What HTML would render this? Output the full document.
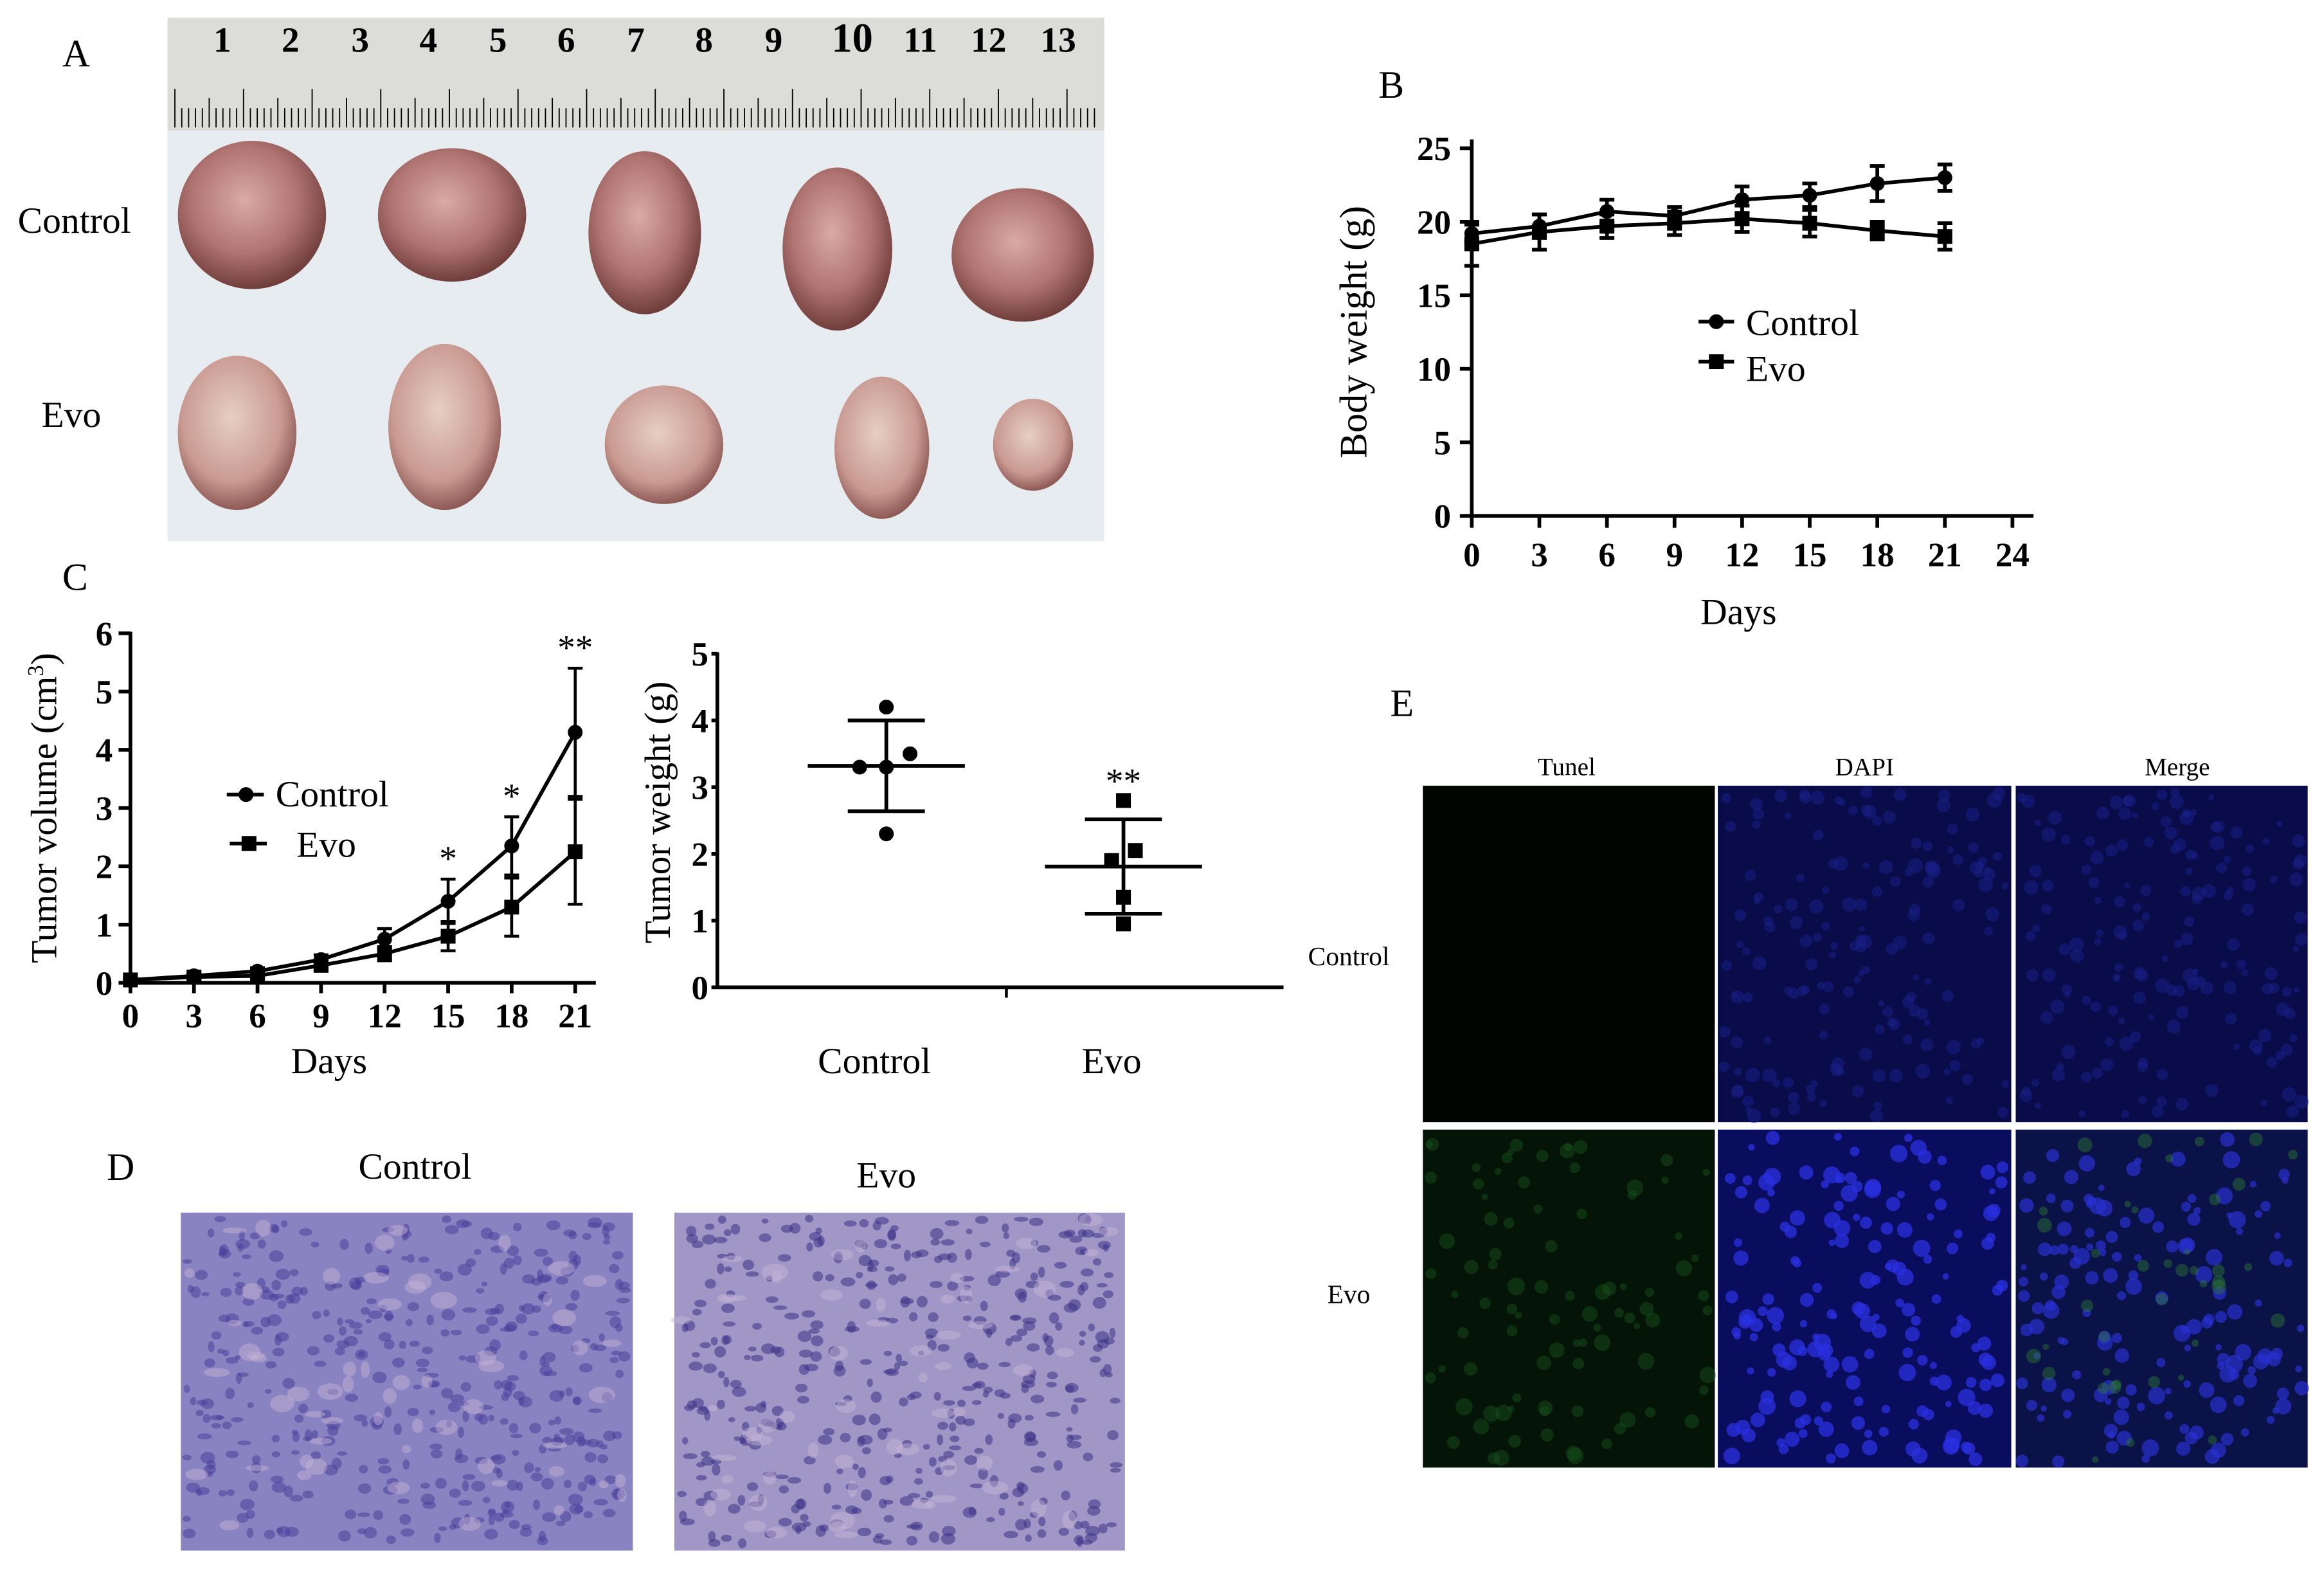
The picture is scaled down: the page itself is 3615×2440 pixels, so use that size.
<!DOCTYPE html>
<html><head><meta charset="utf-8">
<style>
html,body{margin:0;padding:0;background:#fff;}
svg{display:block;font-family:"Liberation Serif",serif;}
</style></head>
<body>
<svg id="fig" xmlns="http://www.w3.org/2000/svg" width="3615" height="2440" viewBox="0 0 1568 1058.4" preserveAspectRatio="none">
<defs>
<radialGradient id="tum" cx="45%" cy="40%" r="60%">
<stop offset="0" stop-color="#d9aaa6"/><stop offset="0.6" stop-color="#b07472"/><stop offset="1" stop-color="#703e3c"/>
</radialGradient>
<radialGradient id="tumw" cx="45%" cy="40%" r="60%">
<stop offset="0" stop-color="#e6cfc4"/><stop offset="0.7" stop-color="#c99a92"/><stop offset="1" stop-color="#8e5a56"/>
</radialGradient>
</defs>
<rect width="1568" height="1058.4" fill="#fff"/>
<g id="panelA">
<rect x="113" y="12" width="632" height="353" fill="#e6ecef"/>
<rect x="113" y="12" width="632" height="76" fill="#dcdcd8"/>
<g id="ruler"></g>
<g id="tumors"></g>
<text x="42" y="45" font-size="26">A</text>
<text x="12" y="157" font-size="25">Control</text>
<text x="28" y="288" font-size="25">Evo</text>
</g>
<g id="panelB"></g>
<g id="panelC1"></g>
<g id="panelC2"></g>
<g id="panelD">
<text x="72" y="796" font-size="26">D</text>
<text x="280" y="795" font-size="25" text-anchor="middle">Control</text>
<text x="598" y="801" font-size="25" text-anchor="middle">Evo</text>
<rect x="122" y="818" width="305" height="228" fill="#8a83c2"/>
<rect x="455" y="818" width="304" height="228" fill="#a097c6"/>
<g id="heCells"></g>
</g>
<g id="panelE">
<text x="938" y="483" font-size="26">E</text>
<text x="1057" y="523" font-size="17" text-anchor="middle">Tunel</text>
<text x="1258" y="523" font-size="17" text-anchor="middle">DAPI</text>
<text x="1469" y="523" font-size="17" text-anchor="middle">Merge</text>
<text x="910" y="651" font-size="18" text-anchor="middle">Control</text>
<text x="910" y="879" font-size="18" text-anchor="middle">Evo</text>
<rect x="960" y="530" width="597" height="460" fill="#fff"/>
<rect x="960" y="530" width="197" height="227" fill="#020402"/>
<rect x="1159" y="530" width="198" height="227" fill="#0a0c4a"/>
<rect x="1360" y="530" width="197" height="227" fill="#0a0c4a"/>
<rect x="960" y="762" width="197" height="228" fill="#041406"/>
<rect x="1159" y="762" width="198" height="228" fill="#0a0c5e"/>
<rect x="1360" y="762" width="197" height="228" fill="#0a1248"/>
<g id="fluoCells"></g>
</g>
</svg>
<script>
// ---- data ----
var bwDays = [0,3,6,9,12,15,18,21];
var bwControl = [19.2,19.7,20.7,20.4,21.5,21.8,22.6,23.0];
var bwControlErr = [0.6,0.8,0.8,0.6,0.9,0.8,1.2,0.9];
var bwEvo = [18.5,19.3,19.7,19.9,20.2,19.9,19.4,19.0];
var bwEvoErr = [1.5,1.2,0.8,0.8,0.9,0.9,0.6,0.9];
var bwYTicks = [0,5,10,15,20,25];
var bwXTicks = [0,3,6,9,12,15,18,21,24];
var tvDays = [0,3,6,9,12,15,18,21];
var tvControl = [0.05,0.12,0.2,0.4,0.75,1.4,2.35,4.3];
var tvControlErr = [0.03,0.04,0.06,0.08,0.18,0.38,0.5,1.1];
var tvEvo = [0.05,0.1,0.12,0.3,0.5,0.8,1.3,2.25];
var tvEvoErr = [0.03,0.03,0.05,0.07,0.12,0.25,0.5,0.9];
var tvStars = ["","","","","","*","*","**"];
var tvYTicks = [0,1,2,3,4,5,6];
var tvXTicks = [0,3,6,9,12,15,18,21];
var twGroups = ["Control","Evo"];
var twControl = [4.2,3.3,3.5,3.3,2.3];
var twEvo = [2.8,1.9,2.05,1.35,0.95];
var twYTicks = [0,1,2,3,4,5];

var NS="http://www.w3.org/2000/svg";
function mk(parent, tag, attrs, name, inter){
  var el=document.createElementNS(NS,tag);
  for(var k in attrs) el.setAttribute(k,attrs[k]);
  
  
  parent.appendChild(el); return el;
}
function txt(parent,x,y,s,size,name,anchor,extra){
  var a={x:x,y:y,'font-size':size,'text-anchor':anchor||'middle'};
  if(extra) for(var k in extra) a[k]=extra[k];
  var t=mk(parent,'text',a,name,false); t.textContent=s; return t;
}
function ln(p,x1,y1,x2,y2,w,name){return mk(p,'line',{x1:x1,y1:y1,x2:x2,y2:y2,stroke:'#000','stroke-width':w||2},name,false);}
var seed=7;function rnd(){seed=(seed*16807)%2147483647;return seed/2147483647;}

// ---- Panel A decor ----
var ru=document.getElementById('ruler');
var rnum=[150,196,243,289,336,382,429,475,522,575,621,667,714];
for(var i=0;i<rnum.length;i++){txt(ru,rnum[i],35,String(i+1),i==9?28:24,'ruler-number','middle',{'font-weight':'bold'});}
for(var x=118;x<742;x+=4.63){var L=(Math.round((x-118)/4.63)%10==0)?26:(Math.round((x-118)/4.63)%5==0?20:13);ln(ru,x,86-L,x,86,0.8,'ruler-tick');}
var tg=document.getElementById('tumors');
var tums=[[170,145,50,50],[305,145,50,45],[435,157,38,55],[565,168,37,55],[690,172,48,45],[160,292,40,52],[300,288,38,56],[448,300,40,40],[595,302,32,48],[697,300,27,31]];
tums.forEach(function(t,i){mk(tg,'ellipse',{cx:t[0],cy:t[1],rx:t[2],ry:t[3],fill:i>=5?'url(#tumw)':'url(#tum)'},'tumor-'+(i<5?'control':'evo')+'-'+(i%5+1),false);});

// ---- Panel B ----
(function(){
var g=document.getElementById('panelB');
var x0=993,xw=15.2,y0=348,yh=9.92;
function X(d){return x0+d*xw;} function Y(v){return y0-v*yh;}
txt(g,930,66,'B',26,'panel-label-b','start');
ln(g,x0,Y(25)-6,x0,y0+1,2.5,'y-axis');ln(g,x0,y0,1372,y0,2.5,'x-axis');
bwYTicks.forEach(function(v){ln(g,x0-8,Y(v),x0,Y(v),2.5,'y-tick');txt(g,x0-14,Y(v)+8,String(v),23,'y-tick-label','end',{'font-weight':'bold'});});
bwXTicks.forEach(function(v){ln(g,X(v),y0,X(v),y0+8,2.5,'x-tick');txt(g,X(v),y0+34,String(v),23,'x-tick-label','middle',{'font-weight':'bold'});});
txt(g,1173,421,'Days',25,'x-axis-title');
txt(g,922,224,'Body weight (g)',26,'y-axis-title','middle',{transform:'rotate(-90 922 224)'});
function series(vals,errs,name,sq){
  var pts=vals.map(function(v,i){return X(bwDays[i])+','+Y(v);}).join(' ');
  mk(g,'polyline',{points:pts,fill:'none',stroke:'#000','stroke-width':2.5},name+'-line',false);
  vals.forEach(function(v,i){var x=X(bwDays[i]);
    ln(g,x,Y(v+errs[i]),x,Y(v-errs[i]),2.5,name+'-error-bar');ln(g,x-5,Y(v+errs[i]),x+5,Y(v+errs[i]),2.5,name+'-error-cap');ln(g,x-5,Y(v-errs[i]),x+5,Y(v-errs[i]),2.5,name+'-error-cap');
    if(sq) mk(g,'rect',{x:x-5,y:Y(v)-5,width:10,height:10,fill:'#000'},name+'-point',false);
    else mk(g,'circle',{cx:x,cy:Y(v),r:5,fill:'#000'},name+'-point',false);});
}
series(bwControl,bwControlErr,'control',false);series(bwEvo,bwEvoErr,'evo',true);
ln(g,1146,217,1170,217,2.5,'legend-line-control');mk(g,'circle',{cx:1158,cy:217,r:5},'legend-marker-control',false);
txt(g,1178,226,'Control',25,'legend-entry-control','start');
ln(g,1146,244,1170,244,2.5,'legend-line-evo');mk(g,'rect',{x:1153,y:239,width:10,height:10},'legend-marker-evo',false);
txt(g,1178,257,'Evo',25,'legend-entry-evo','start');
})();

// ---- Panel C volume ----
(function(){
var g=document.getElementById('panelC1');
var x0=88,xw=14.29,y0=663,yh=39.3;
function X(d){return x0+d*xw;} function Y(v){return y0-v*yh;}
txt(g,42,398,'C',26,'panel-label-c','start');
ln(g,x0,Y(6)-1,x0,y0+1,2.5,'y-axis');ln(g,x0,y0,402,y0,2.5,'x-axis');
tvYTicks.forEach(function(v){ln(g,x0-8,Y(v),x0,Y(v),2.5,'y-tick');txt(g,x0-12,Y(v)+8,String(v),23,'y-tick-label','end',{'font-weight':'bold'});});
tvXTicks.forEach(function(v){ln(g,X(v),y0,X(v),y0+7,2.5,'x-tick');txt(g,X(v),y0+30,String(v),23,'x-tick-label','middle',{'font-weight':'bold'});});
txt(g,222,724,'Days',25,'x-axis-title');
var t=txt(g,38,545,'Tumor volume (cm',25,'y-axis-title','middle',{transform:'rotate(-90 38 545)'});
var s1=document.createElementNS(NS,'tspan');s1.setAttribute('font-size','15');s1.setAttribute('dy','-9');s1.textContent='3';t.appendChild(s1);
var s2=document.createElementNS(NS,'tspan');s2.setAttribute('dy','9');s2.textContent=')';t.appendChild(s2);
function series(vals,errs,name,sq){
  var pts=vals.map(function(v,i){return X(tvDays[i])+','+Y(v);}).join(' ');
  mk(g,'polyline',{points:pts,fill:'none',stroke:'#000','stroke-width':2.5},name+'-line',false);
  vals.forEach(function(v,i){var x=X(tvDays[i]);
    ln(g,x,Y(v+errs[i]),x,Y(Math.max(0,v-errs[i])),2,name+'-error-bar');ln(g,x-5,Y(v+errs[i]),x+5,Y(v+errs[i]),2,name+'-error-cap');ln(g,x-5,Y(Math.max(0,v-errs[i])),x+5,Y(Math.max(0,v-errs[i])),2,name+'-error-cap');
    if(sq) mk(g,'rect',{x:x-5,y:Y(v)-5,width:10,height:10,fill:'#000'},name+'-point',false);
    else mk(g,'circle',{cx:x,cy:Y(v),r:5,fill:'#000'},name+'-point',false);});
}
series(tvControl,tvControlErr,'control',false);series(tvEvo,tvEvoErr,'evo',true);
tvStars.forEach(function(s,i){if(s)txt(g,X(tvDays[i]),Y(tvControl[i]+tvControlErr[i])-6,s,24,'significance-star');});
ln(g,153,536,178,536,2.5,'legend-line-control');mk(g,'circle',{cx:166,cy:536,r:5},'legend-marker-control',false);
txt(g,186,544,'Control',25,'legend-entry-control','start');
ln(g,155,569,180,569,2.5,'legend-line-evo');mk(g,'rect',{x:163,y:564,width:10,height:10},'legend-marker-evo',false);
txt(g,200,578,'Evo',25,'legend-entry-evo','start');
})();

// ---- Panel C weight ----
(function(){
var g=document.getElementById('panelC2');
var x0=484,y0=666,yh=45;
var gx=[598,758];
function Y(v){return y0-v*yh;}
ln(g,x0,Y(5)-1,x0,y0+1,2.5,'y-axis');ln(g,x0,y0,866,y0,2.5,'x-axis');ln(g,679,y0,679,y0+7,2,'x-tick');
twYTicks.forEach(function(v){ln(g,x0-4,Y(v),x0,Y(v),2.5,'y-tick');txt(g,x0-6,Y(v)+8,String(v),23,'y-tick-label','end',{'font-weight':'bold'});});
twGroups.forEach(function(s,i){txt(g,gx[i]-8,724,s,25,'x-category-label');});
txt(g,452,548,'Tumor weight (g)',25,'y-axis-title','middle',{transform:'rotate(-90 452 548)'});
var offs=[0,-18,16,0,0];
var offsE=[0,-8,8,0,0];
[twControl,twEvo].forEach(function(vals,gi){
  var m=vals.reduce(function(a,b){return a+b;},0)/vals.length;
  var sd=Math.sqrt(vals.reduce(function(a,b){return a+(b-m)*(b-m);},0)/(vals.length-1));
  var c=gx[gi]; var nm=gi?'evo':'control';
  ln(g,c-53,Y(m),c+53,Y(m),2.5,nm+'-mean-line');
  ln(g,c,Y(m+sd),c,Y(m-sd),2.5,nm+'-sd-bar');
  ln(g,c-26,Y(m+sd),c+26,Y(m+sd),2.5,nm+'-sd-cap');ln(g,c-26,Y(m-sd),c+26,Y(m-sd),2.5,nm+'-sd-cap');
  vals.forEach(function(v,i){var x=c+(gi?offsE[i]:offs[i]);
    if(gi) mk(g,'rect',{x:x-5,y:Y(v)-5,width:10,height:10,fill:'#000'},'evo-point',false);
    else mk(g,'circle',{cx:x,cy:Y(v),r:5,fill:'#000'},'control-point',false);});
  if(gi) txt(g,c,Y(m+sd)-18,'**',24,'significance-star');
});
})();

// ---- Panel D texture ----
(function(){
var g=document.getElementById('heCells');
[[122,305,'#4a3f9a'],[455,304,'#3d3286']].forEach(function(p,k){
  for(var i=0;i<420;i++){var x=p[0]+4+rnd()*(p[1]-8),y=822+rnd()*220;
    mk(g,'ellipse',{cx:x,cy:y,rx:2+rnd()*3,ry:1.5+rnd()*2.5,fill:p[2],opacity:0.55},'he-nucleus',false);}
  for(var j=0;j<60;j++){var x2=p[0]+4+rnd()*(p[1]-8),y2=822+rnd()*220;
    mk(g,'ellipse',{cx:x2,cy:y2,rx:3+rnd()*6,ry:2+rnd()*4,fill:'#c7b6d6',opacity:0.45},'he-cytoplasm',false);}
});
})();

// ---- Panel E texture ----
(function(){
var g=document.getElementById('fluoCells');
function dots(x,y,w,h,n,col,rmin,rmax,op){for(var i=0;i<n;i++){mk(g,'circle',{cx:x+4+rnd()*(w-8),cy:y+4+rnd()*(h-8),r:rmin+rnd()*(rmax-rmin),fill:col,opacity:op},'fluorescent-cell',false);}}
dots(1159,530,198,227,160,'#1a1f8a',2,5,0.5);
dots(1360,530,197,227,160,'#1a1f8a',2,5,0.5);
dots(960,762,197,228,90,'#1a5a20',2,6,0.4);
dots(1159,762,198,228,170,'#2a30e0',2,6,0.75);
dots(1360,762,197,228,150,'#2a30d0',2,6,0.7);
dots(1360,762,197,228,40,'#2e7a34',2,5,0.45);
})();
</script>
</body></html>
